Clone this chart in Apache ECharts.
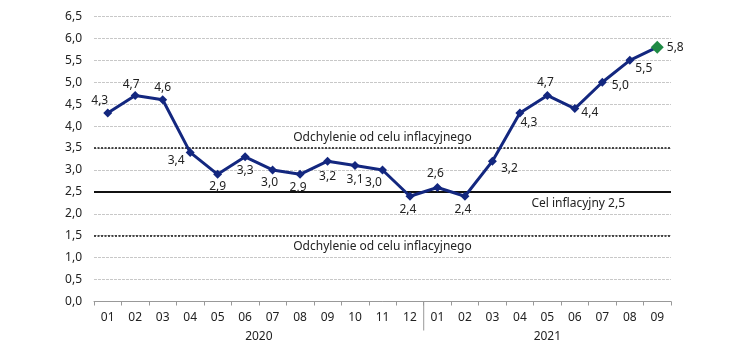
<!DOCTYPE html>
<html>
<head>
<meta charset="utf-8">
<script src="https://cdn.jsdelivr.net/npm/echarts@6/dist/echarts.min.js"></script>
<style>
  html, body { margin: 0; padding: 0; background: #fff; }
  #chart { width: 750px; height: 353px; }
</style>
</head>
<body>
<div id="chart"></div>
<script>
// months of 2020 (12) and 2021 (9)
const months = ["01","02","03","04","05","06","07","08","09","10","11","12",
                "01","02","03","04","05","06","07","08","09"];
const years = ["2020", "2021"];
const yearCounts = [12, 9];
const inflation = [4.3, 4.7, 4.6, 3.4, 2.9, 3.3, 3.0, 2.9, 3.2, 3.1, 3.0, 2.4,
                   2.6, 2.4, 3.2, 4.3, 4.7, 4.4, 5.0, 5.5, 5.8];
const targetLine = 2.5;
const bandLines = [3.5, 1.5];

// where each value label sits relative to its point (px)
const labelOffsets = [[-8,-12],[-4,-11],[0,-12],[-14,8],[0,12],[0,14],[-3,13],[-2,13],
  [0,15],[0,14],[-9,13],[-2,13],[-2,-14],[-2,13],[17,7],[9,10],[-2,-13],[15,4],
  [18,3],[14,8],[18,0]];

const fmt = v => v.toFixed(1).replace(".", ",");
const FONT = "Noto Sans";
const navy = "#13277f";

const chart = echarts.init(document.getElementById("chart"));

const seriesData = inflation.map((v, i) => {
  const last = i === inflation.length - 1;
  return {
    value: v,
    symbolSize: last ? 13 : 9,
    itemStyle: { color: last ? "#1f8a45" : navy },
    label: { offset: labelOffsets[i] }
  };
});

chart.setOption({
  animation: false,
  textStyle: { fontFamily: FONT },
  grid: { left: 94, right: 79, top: 16.5, bottom: 51.5 },
  xAxis: {
    type: "category",
    data: months,
    boundaryGap: true,
    axisLine: { lineStyle: { color: "#999", width: 1 } },
    axisTick: { show: true, length: 4, lineStyle: { color: "#999" } },
    axisLabel: { color: "#222", fontSize: 12, margin: 10, fontFamily: FONT }
  },
  yAxis: {
    type: "value",
    min: 0,
    max: 6.5,
    interval: 0.5,
    axisLine: { show: false },
    axisTick: { show: false },
    axisLabel: { color: "#222", fontSize: 12, margin: 12, fontFamily: FONT, formatter: fmt },
    splitLine: { lineStyle: { color: "#c8c8c8", type: [3, 1], width: 1 } }
  },
  series: [{
    type: "line",
    data: seriesData,
    symbol: "diamond",
    lineStyle: { color: navy, width: 3 },
    itemStyle: { color: navy },
    label: {
      show: true,
      position: "inside",
      align: "center",
      verticalAlign: "middle",
      color: "#222",
      fontSize: 12,
      fontFamily: FONT,
      formatter: p => fmt(p.value)
    },
    emphasis: { disabled: true },
    z: 5,
    markLine: {
      silent: true,
      symbol: "none",
      animation: false,
      data: [
        {
          yAxis: bandLines[0],
          lineStyle: { color: "#111", type: [2, 1.5], width: 1.5 },
          label: { position: "insideMiddleTop", formatter: "Odchylenie od celu inflacyjnego", distance: 4 }
        },
        {
          yAxis: targetLine,
          lineStyle: { color: "#111", type: "solid", width: 2 },
          label: { position: "insideEndBottom", formatter: "Cel inflacyjny 2,5", distance: 6, padding: [0, 40, 0, 0] }
        },
        {
          yAxis: bandLines[1],
          lineStyle: { color: "#111", type: [2, 1.5], width: 1.5 },
          label: { position: "insideMiddleBottom", formatter: "Odchylenie od celu inflacyjnego", distance: 5 }
        }
      ],
      label: { color: "#222", fontSize: 12, fontFamily: FONT }
    }
  }]
});

// year labels under each group of months and the separator between years
const graphics = [];
let start = 0;
const axisY = chart.convertToPixel({ yAxisIndex: 0 }, 0);
const step = chart.convertToPixel({ xAxisIndex: 0 }, 1) - chart.convertToPixel({ xAxisIndex: 0 }, 0);
years.forEach((yr, k) => {
  const n = yearCounts[k];
  const x0 = chart.convertToPixel({ xAxisIndex: 0 }, start) - step / 2;
  const cx = x0 + n * step / 2;
  graphics.push({
    type: "text",
    x: cx, y: axisY + 35,
    style: { text: yr, fill: "#222", font: "12px " + FONT, align: "center", verticalAlign: "middle" }
  });
  if (k > 0) {
    graphics.push({
      type: "line",
      shape: { x1: x0, y1: axisY, x2: x0, y2: axisY + 29 },
      style: { stroke: "#999", lineWidth: 1 }
    });
  }
  start += n;
});
chart.setOption({ graphic: graphics });
</script>
</body>
</html>
